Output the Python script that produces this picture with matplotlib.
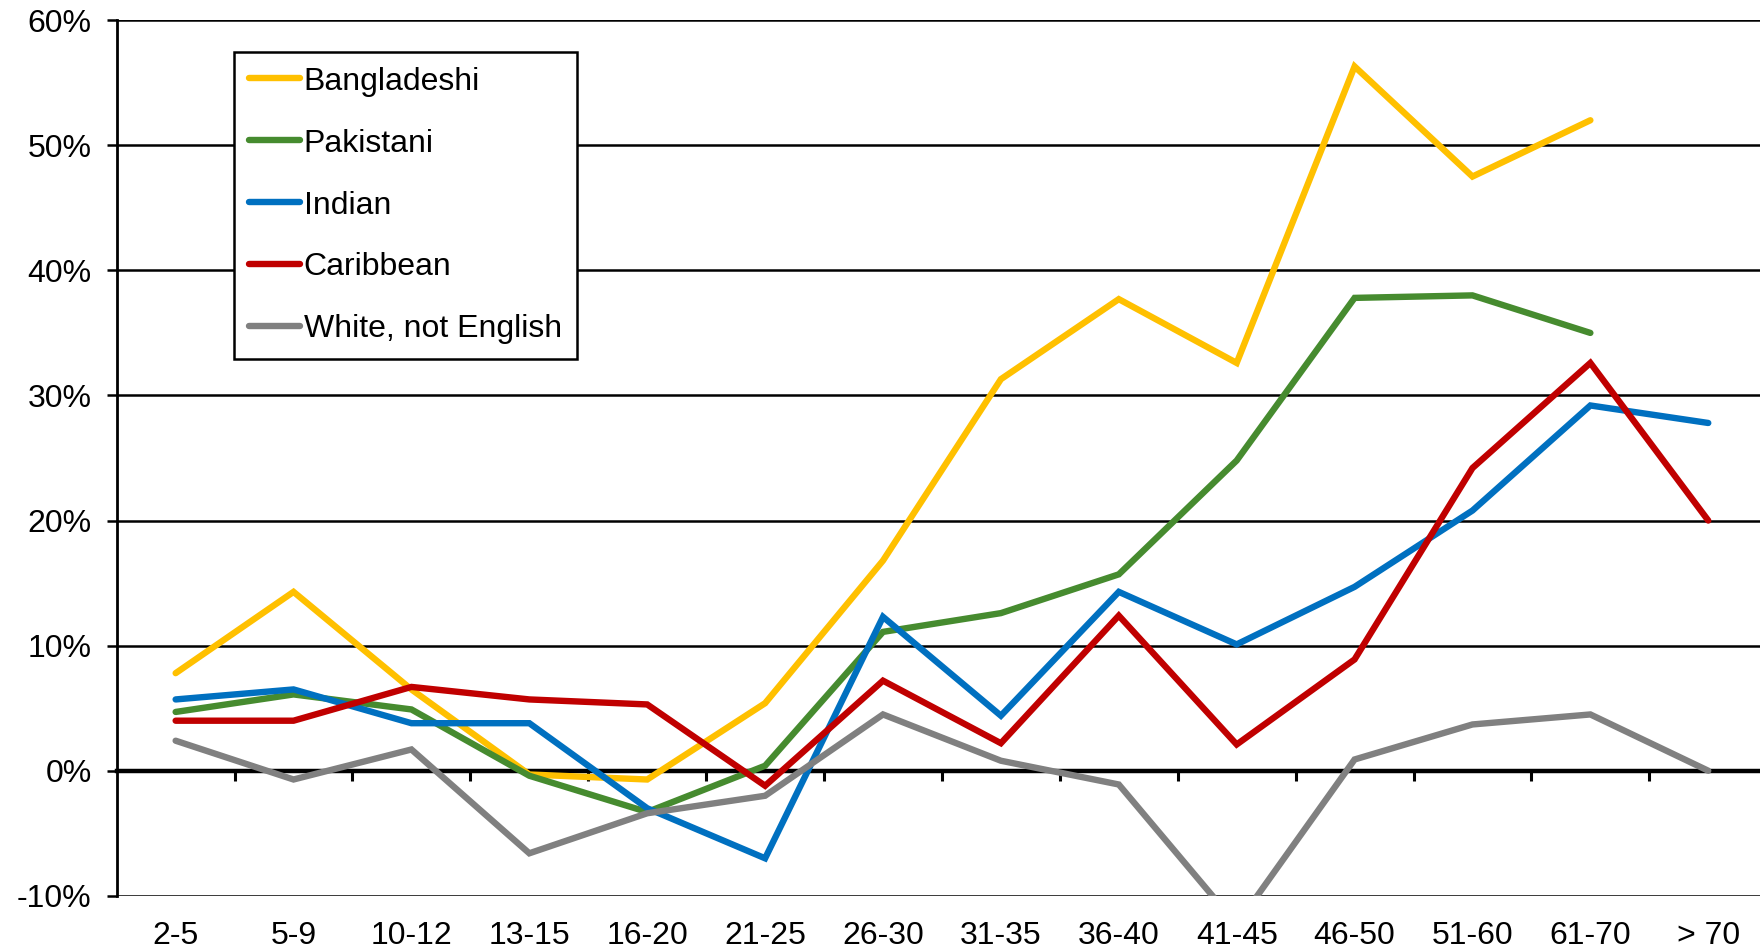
import numpy as np
import matplotlib.pyplot as plt

plt.rcParams['font.family'] = ['Liberation Sans', 'DejaVu Sans']
plt.rcParams.update({'font.size': 23})

age_groups = ['2-5', '5-9', '10-12', '13-15', '16-20', '21-25', '26-30',
              '31-35', '36-40', '41-45', '46-50', '51-60', '61-70', '> 70']

# percentage values per age group (None = no data)
bangladeshi = [7.8, 14.3, 6.5, -0.3, -0.7, 5.4, 16.8, 31.3, 37.7, 32.6, 56.3, 47.5, 52.0, None]
pakistani = [4.7, 6.1, 4.9, -0.4, -3.3, 0.4, 11.1, 12.6, 15.7, 24.8, 37.8, 38.0, 35.0, None]
indian = [5.7, 6.5, 3.8, 3.8, -3.0, -7.0, 12.3, 4.4, 14.3, 10.1, 14.7, 20.8, 29.2, 27.8]
caribbean = [4.0, 4.0, 6.7, 5.7, 5.3, -1.2, 7.2, 2.2, 12.4, 2.1, 8.9, 24.2, 32.6, 20.0]
white_not_english = [2.4, -0.7, 1.7, -6.6, -3.4, -2.0, 4.5, 0.8, -1.1, -12.3, 0.9, 3.7, 4.5, 0.0]

series = [
    ('Bangladeshi', bangladeshi, '#FFC000'),
    ('Pakistani', pakistani, '#468B2F'),
    ('Indian', indian, '#0070C0'),
    ('Caribbean', caribbean, '#C00000'),
    ('White, not English', white_not_english, '#808080'),
]

fig = plt.figure(figsize=(17.6, 9.52), dpi=100)
ax = fig.add_axes([0.0663, 0.059, 0.9378, 0.9198])

x = np.arange(len(age_groups))

# horizontal gridlines, black
for v in np.arange(-0.1, 0.61, 0.1):
    ax.axhline(v, color='black', lw=1.8, zorder=1)

for name, vals, col in series:
    y = np.array([np.nan if v is None else v / 100 for v in vals])
    ax.plot(x, y, color=col, lw=4.6, label=name, solid_capstyle='round',
            solid_joinstyle='miter', zorder=3)

ax.set_xlim(-0.5, len(age_groups) - 0.5)
ax.set_ylim(-0.1, 0.6)

ax.set_yticks(np.arange(-0.1, 0.61, 0.1))
ax.set_yticklabels(['%d%%' % round(v * 100) for v in np.arange(-0.1, 0.61, 0.1)])
ax.tick_params(axis='y', direction='out', length=7, width=1.8, pad=11)

# x axis runs along the zero line, ticks between categories
ax.spines['top'].set_visible(False)
ax.spines['right'].set_visible(False)
ax.spines['left'].set_linewidth(2.0)
ax.spines['bottom'].set_position(('data', 0))
ax.spines['bottom'].set_linewidth(3.2)
ax.spines['bottom'].set_zorder(2)
ax.set_xticks(np.arange(0.5, len(age_groups) - 1, 1.0))
ax.set_xticklabels([])
ax.tick_params(axis='x', direction='out', length=7, width=2.2)

# category labels sit below the plot area
for i, lab in enumerate(age_groups):
    ax.annotate(lab, xy=(i, -0.1), xytext=(0, -29), textcoords='offset points',
                ha='center', va='center', annotation_clip=False)

leg = ax.legend(loc='upper left', bbox_to_anchor=(0.0708, 0.9641), borderaxespad=0,
                fancybox=False, framealpha=1, edgecolor='black',
                handlelength=1.6, handletextpad=0.12, labelspacing=1.0,
                borderpad=0.47)
leg.get_frame().set_linewidth(1.8)

plt.savefig('out.png', dpi=100)
